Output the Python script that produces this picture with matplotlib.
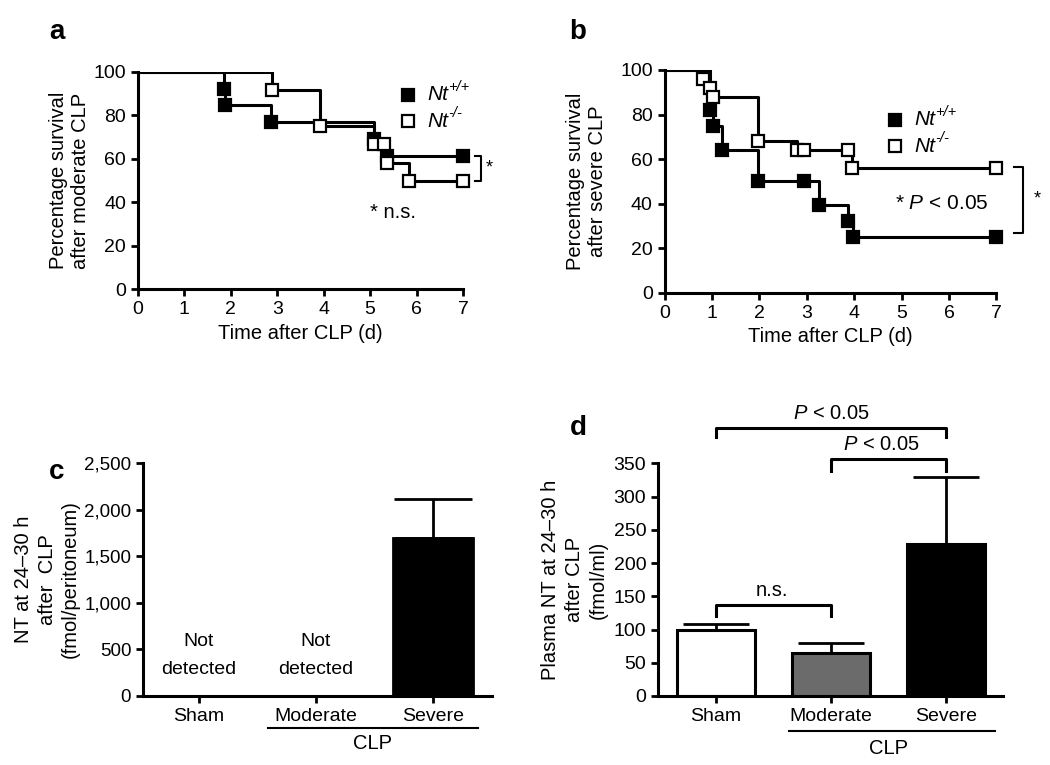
import matplotlib
matplotlib.use("Agg")
import matplotlib.pyplot as plt

plt.rcParams['font.family'] = ['Liberation Sans', 'DejaVu Sans']
plt.rcParams['font.size'] = 14
plt.rcParams['mathtext.fontset'] = 'custom'
plt.rcParams['mathtext.rm'] = 'Liberation Sans'
plt.rcParams['mathtext.it'] = 'Liberation Sans:italic'

# panel a: survival after moderate CLP (event times in days, % survival)
a_wt_t = [1.85, 1.88, 2.86, 5.09, 5.37]
a_wt_s = [92.3, 84.6, 76.9, 69.2, 61.5]
a_ko_t = [2.89, 3.93, 5.09, 5.30, 5.37, 5.84]
a_ko_s = [91.7, 75.0, 66.7, 66.7, 58.3, 50.0]

# panel b: survival after severe CLP
b_wt_t = [0.95, 1.03, 1.20, 1.97, 2.93, 3.25, 3.87, 3.97]
b_wt_s = [82.1, 75.0, 64.3, 50.0, 50.0, 39.3, 32.1, 25.0]
b_ko_t = [0.81, 0.95, 1.03, 1.97, 2.80, 2.95, 3.87, 3.95]
b_ko_s = [96.0, 92.0, 88.0, 68.0, 64.0, 64.0, 64.0, 56.0]

# panel c: peritoneal NT
c_groups = ['Sham', 'Moderate', 'Severe']
c_mean = [0, 0, 1690]
c_err = [0, 0, 420]

# panel d: plasma NT
d_groups = ['Sham', 'Moderate', 'Severe']
d_mean = [99, 64, 228]
d_err = [9, 15, 102]
d_colors = ['white', '#6b6b6b', 'black']

fig = plt.figure(figsize=(10.5, 7.65), dpi=100)


def style_axes(ax):
    for s in ['top', 'right']:
        ax.spines[s].set_visible(False)
    for s in ['left', 'bottom']:
        ax.spines[s].set_linewidth(2.2)
    ax.tick_params(direction='out', length=5, width=2, labelsize=14)


def km(ax, t, s, filled):
    xs = [0] + t + [7]
    ys = [100] + s + [s[-1]]
    ax.step(xs, ys, where='post', color='black', lw=2.2, zorder=2)
    ax.plot(t + [7], s + [s[-1]], 's', ms=9, mec='black', mew=1.6,
            mfc='black' if filled else 'white', zorder=3, clip_on=False)


def key(ax, mx, tx, y, filled, sup):
    # legend entry: marker, italic Nt and its superscript
    ax.plot([mx], [y], 's', ms=9, mec='black', mew=1.6,
            mfc='black' if filled else 'white', transform=ax.transAxes, clip_on=False)
    ax.text(tx, y, 'Nt', style='italic', ha='left', va='center', fontsize=15,
            transform=ax.transAxes)
    ax.annotate(sup, (tx, y), xytext=(15, 6), textcoords='offset points',
                xycoords='axes fraction', style='italic', ha='left', va='center',
                fontsize=10.5)


# ---- panel a
ax = fig.add_axes([0.1314, 0.622, 0.3095, 0.284])
km(ax, a_wt_t, a_wt_s, True)
km(ax, a_ko_t, a_ko_s, False)
ax.set_xlim(0, 7)
ax.set_ylim(0, 100)
ax.set_xticks(range(8))
ax.set_yticks(range(0, 101, 20))
style_axes(ax)
ax.set_xlabel('Time after CLP (d)', labelpad=4, fontsize=14.5)
ax.set_ylabel('Percentage survival\nafter moderate CLP', linespacing=1.2, fontsize=14.5)
ax.yaxis.set_label_coords(-0.148, 0.5)
key(ax, 0.831, 0.89, 0.894, True, '+/+')
key(ax, 0.831, 0.89, 0.774, False, '-/-')
ax.plot([7.25, 7.38, 7.38, 7.25], [61.5, 61.5, 50, 50], color='black', lw=1.5, clip_on=False)
ax.text(7.5, 56, '*', ha='left', va='center', fontsize=13)
ax.text(5.0, 35.5, '* n.s.', ha='left', va='center', fontsize=14.5)

# ---- panel b
ax = fig.add_axes([0.633, 0.617, 0.316, 0.2915])
km(ax, b_wt_t, b_wt_s, True)
km(ax, b_ko_t, b_ko_s, False)
ax.set_xlim(0, 7)
ax.set_ylim(0, 100)
ax.set_xticks(range(8))
ax.set_yticks(range(0, 101, 20))
style_axes(ax)
ax.set_xlabel('Time after CLP (d)', labelpad=4, fontsize=14.5)
ax.set_ylabel('Percentage survival\nafter severe CLP', linespacing=1.2, fontsize=14.5)
ax.yaxis.set_label_coords(-0.175, 0.5)
key(ax, 0.693, 0.753, 0.776, True, '+/+')
key(ax, 0.693, 0.753, 0.659, False, '-/-')
ax.plot([7.38, 7.55, 7.55, 7.38], [56.6, 56.6, 26.8, 26.8], color='black', lw=1.5, clip_on=False)
ax.text(7.78, 42, '*', ha='left', va='center', fontsize=13)
ax.text(4.85, 40, r'* $P$ < 0.05', ha='left', va='center', fontsize=15)

# ---- panel c
ax = fig.add_axes([0.1362, 0.0902, 0.3324, 0.3046])
x = range(len(c_groups))
ax.bar(x, c_mean, width=0.68, color='black', edgecolor='black', lw=2)
ax.errorbar([2], [c_mean[2]], yerr=[[0], [c_err[2]]], fmt='none', ecolor='black',
            elinewidth=2, capsize=28, capthick=2)
ax.set_xlim(-0.479, 2.504)
ax.set_ylim(0, 2500)
ax.set_yticks(range(0, 2501, 500))
ax.set_yticklabels(['0', '500', '1,000', '1,500', '2,000', '2,500'])
ax.set_xticks(list(x))
ax.set_xticklabels(c_groups, fontsize=14.5)
style_axes(ax)
ax.tick_params(axis='y', labelsize=13.5)
ax.set_ylabel('NT at 24\u201330 h\nafter  CLP\n(fmol/peritoneum)', linespacing=1.3, fontsize=14.5)
ax.yaxis.set_label_coords(-0.18, 0.5)
for i in [0, 1]:
    ax.text(i, 583, 'Not', ha='center', va='center', fontsize=14)
    ax.text(i, 280, 'detected', ha='center', va='center', fontsize=14)
tr = ax.get_xaxis_transform()
ax.plot([0.59, 2.38], [-0.137, -0.137], color='black', lw=1.5, transform=tr, clip_on=False)
ax.text(1.48, -0.205, 'CLP', ha='center', va='center', transform=tr, fontsize=14.5)

# ---- panel d
ax = fig.add_axes([0.6267, 0.0902, 0.3286, 0.3042])
x = range(len(d_groups))
ax.bar(x, d_mean, width=0.68, color=d_colors, edgecolor='black', lw=2.2, zorder=2)
ax.errorbar(list(x), d_mean, yerr=[[0, 0, 0], d_err], fmt='none', ecolor='black',
            elinewidth=2, capsize=24, capthick=2, zorder=1)
ax.set_xlim(-0.504, 2.496)
ax.set_ylim(0, 350)
ax.set_yticks(range(0, 351, 50))
ax.set_xticks(list(x))
ax.set_xticklabels(d_groups, fontsize=14.5)
style_axes(ax)
ax.set_ylabel('Plasma NT at 24\u201330 h\nafter CLP\n(fmol/ml)', linespacing=1.35, fontsize=14.5)
ax.yaxis.set_label_coords(-0.145, 0.5)


def bracket(ax, x0, x1, y, drop, label, lx):
    ax.plot([x0, x0, x1, x1], [y - drop, y, y, y - drop], color='black', lw=2.2, clip_on=False)
    ax.text(lx, y + 8, label, ha='center', va='bottom', fontsize=14.5)


bracket(ax, 0, 2, 403, 14, r'$P$ < 0.05', 1.0)
bracket(ax, 1, 2, 356, 17, r'$P$ < 0.05', 1.44)
bracket(ax, 0, 1, 137, 17, 'n.s.', 0.49)
tr = ax.get_xaxis_transform()
ax.plot([0.635, 2.43], [-0.149, -0.149], color='black', lw=1.5, transform=tr, clip_on=False)
ax.text(1.5, -0.225, 'CLP', ha='center', va='center', transform=tr, fontsize=14.5)

# panel letters
for lab, px, py in [('a', 57, 32), ('b', 578, 32), ('c', 57, 472), ('d', 578, 428)]:
    fig.text(px / 1050, 1 - py / 765, lab, ha='center', va='center', fontsize=20, fontweight='bold')

fig.savefig('out.png', dpi=100)
